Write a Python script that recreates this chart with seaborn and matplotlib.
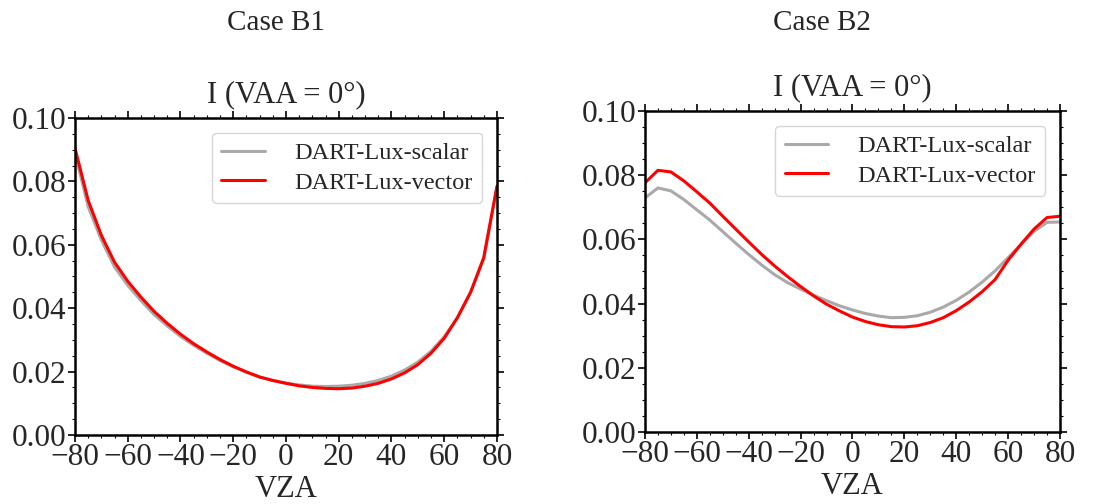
import numpy as np
import pandas as pd
import matplotlib
matplotlib.use("Agg")
import matplotlib.pyplot as plt
from matplotlib.ticker import MultipleLocator
import seaborn as sns

# datos
vza = [-80, -75, -70, -65, -60, -55, -50, -45, -40, -35, -30, -25, -20, -15, -10, -5,
       0, 5, 10, 15, 20, 25, 30, 35, 40, 45, 50, 55, 60, 65, 70, 75, 80]

b1_scalar = [0.0890, 0.0720, 0.0615, 0.0530, 0.0472, 0.0424, 0.0380, 0.0344, 0.0311,
             0.0283, 0.0258, 0.0235, 0.0215, 0.0198, 0.0183, 0.0172, 0.0164, 0.0158,
             0.0154, 0.0153, 0.0154, 0.0157, 0.0163, 0.0172, 0.0186, 0.0205, 0.0230,
             0.0264, 0.0310, 0.0370, 0.0450, 0.0555, 0.0780]
b1_vector = [0.0905, 0.0740, 0.0630, 0.0545, 0.0485, 0.0435, 0.0390, 0.0352, 0.0318,
             0.0288, 0.0262, 0.0238, 0.0217, 0.0199, 0.0183, 0.0172, 0.0163, 0.0155,
             0.0150, 0.0147, 0.0146, 0.0148, 0.0154, 0.0163, 0.0177, 0.0196, 0.0222,
             0.0258, 0.0305, 0.0370, 0.0450, 0.0560, 0.0785]

b2_scalar = [0.0729, 0.0760, 0.0751, 0.0724, 0.0692, 0.0660, 0.0624, 0.0588, 0.0553,
             0.0520, 0.0490, 0.0465, 0.0445, 0.0426, 0.0409, 0.0393, 0.0380, 0.0369,
             0.0361, 0.0356, 0.0357, 0.0362, 0.0373, 0.0389, 0.0410, 0.0436, 0.0467,
             0.0502, 0.0543, 0.0585, 0.0625, 0.0653, 0.0654]
b2_vector = [0.0776, 0.0815, 0.0810, 0.0782, 0.0748, 0.0713, 0.0672, 0.0632, 0.0592,
             0.0553, 0.0517, 0.0484, 0.0453, 0.0424, 0.0398, 0.0377, 0.0358, 0.0344,
             0.0334, 0.0328, 0.0327, 0.0331, 0.0341, 0.0356, 0.0378, 0.0405, 0.0437,
             0.0475, 0.0535, 0.0585, 0.0632, 0.0668, 0.0672]

series = ["DART-Lux-scalar", "DART-Lux-vector"]
cases = ["Case B1", "Case B2"]
colores = {"DART-Lux-scalar": "#a9a9a9", "DART-Lux-vector": "#ff0000"}

# tabla larga para seaborn
df = pd.concat([
    pd.DataFrame({"VZA": vza, "I": b1_scalar, "serie": series[0], "caso": cases[0]}),
    pd.DataFrame({"VZA": vza, "I": b1_vector, "serie": series[1], "caso": cases[0]}),
    pd.DataFrame({"VZA": vza, "I": b2_scalar, "serie": series[0], "caso": cases[1]}),
    pd.DataFrame({"VZA": vza, "I": b2_vector, "serie": series[1], "caso": cases[1]}),
])

sns.set_theme(style="ticks")
plt.rcParams["font.family"] = ["Liberation Serif", "DejaVu Serif"]

fig = plt.figure(figsize=(10.98, 5.04), dpi=100)
posiciones = [[0.0683, 0.1369, 0.3843, 0.629], [0.5874, 0.1429, 0.378, 0.637]]
centros_titulo = [0.251, 0.749]

for caso, pos, cx in zip(cases, posiciones, centros_titulo):
    ax = fig.add_axes(pos)
    sns.lineplot(data=df[df["caso"] == caso], x="VZA", y="I", hue="serie",
                 palette=colores, linewidth=2.2, ax=ax)
    ax.set_xlim(-80, 80)
    ax.set_ylim(0, 0.10)
    ax.xaxis.set_major_locator(MultipleLocator(20))
    ax.xaxis.set_minor_locator(MultipleLocator(5))
    ax.yaxis.set_major_locator(MultipleLocator(0.02))
    ax.yaxis.set_minor_locator(MultipleLocator(0.005))
    ax.yaxis.set_major_formatter(matplotlib.ticker.FormatStrFormatter("%.2f"))
    ax.tick_params(which="both", direction="out", top=True, right=True,
                   labelsize=22.5, color="black")
    ax.tick_params(which="major", length=5, width=1.2, pad=1)
    ax.tick_params(which="minor", length=2.5, width=0.8)
    for s in ax.spines.values():
        s.set_linewidth(1.8)
        s.set_color("black")
    ax.set_title("I (VAA = 0°)", fontsize=22, pad=11)
    ax.set_xlabel("VZA", fontsize=22, labelpad=2)
    ax.set_ylabel("")
    leg = ax.legend(loc="upper right", fontsize=17.5, handlelength=1.8,
                    handletextpad=1.2, borderaxespad=0.6, labelspacing=0.3)
    for l in leg.get_lines():
        l.set_linewidth(2.2)
    fig.text(cx, 0.955, caso, ha="center", va="center", fontsize=21)

fig.savefig("out.png", dpi=100)
